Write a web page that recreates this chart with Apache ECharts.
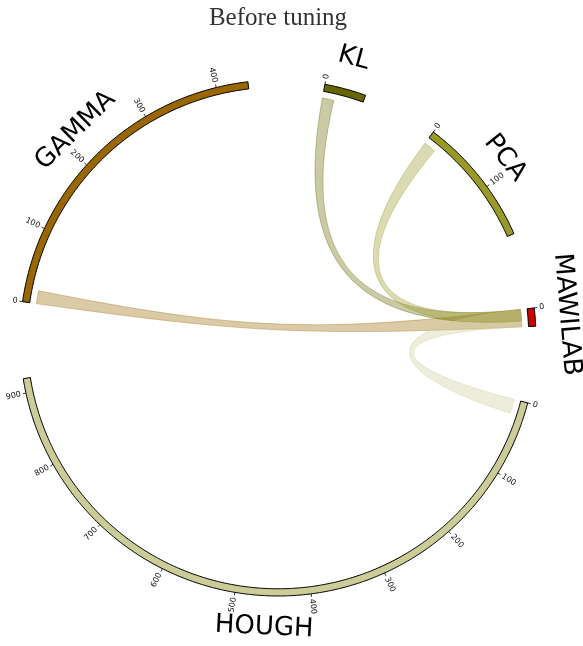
<!DOCTYPE html>
<html>
<head>
<meta charset="utf-8">
<title>Before tuning</title>
<script src="https://cdn.jsdelivr.net/npm/echarts@6/dist/echarts.min.js"></script>
<style>
  html, body { margin: 0; padding: 0; background: #fff; }
  #main { width: 583px; height: 646px; }
</style>
</head>
<body>
<div id="main"></div>
<script>
// nodes, clockwise from GAMMA
var names = ['GAMMA', 'KL', 'PCA', 'MAWILAB', 'HOUGH'];
var sizes = [442, 55, 171, 24, 919];
var colors = ['#996600', '#666600', '#999926', '#cc0000', '#cccc99'];

// links (width at each end, counted from the start of the node)
var linkFrom = ['GAMMA', 'KL', 'PCA', 'HOUGH'];
var linkTo = ['MAWILAB', 'MAWILAB', 'MAWILAB', 'MAWILAB'];
var linkFromWidth = [18, 16, 17, 20];
var linkToWidth = [24, 16, 16, 24];

var tickStep = 100;
var gap = 101;

// radii, as a fraction of the polar radius
var R_OUT = 1, R_IN = 0.972, R_CHORD = 0.946;
var R_TICK = 1.012, R_TICK_LABEL = 1.02, R_NAME = 1.123;

var starts = [];
var total = 0;
for (var i = 0; i < names.length; i++) {
    starts.push(total);
    total += sizes[i] + gap;
}

var ticks = [];
names.forEach(function (n, i) {
    for (var v = 0; v <= sizes[i]; v += tickStep) {
        ticks.push({node: i, value: v});
    }
});

function rgba(hex, a) {
    var n = parseInt(hex.slice(1), 16);
    return 'rgba(' + (n >> 16 & 255) + ',' + (n >> 8 & 255) + ',' + (n & 255) + ',' + a + ')';
}

function angleAt(api, p) {
    var c = api.coord([0, 0]);
    return Math.atan2(c[1] - p[1], p[0] - c[0]);
}

function xy(p) {
    return p[0].toFixed(2) + ' ' + p[1].toFixed(2);
}

function arcPath(api, r, u0, u1) {
    var s = '';
    var n = Math.max(2, Math.ceil(Math.abs(u1 - u0) / 2));
    for (var j = 1; j <= n; j++) {
        s += ' L' + xy(api.coord([r, u0 + (u1 - u0) * j / n]));
    }
    return s;
}

// bezier through the inside; pulled less to the centre for far apart ends
function bend(api, u0, u1) {
    var deg = Math.abs(u1 - u0) / total * 360;
    if (deg > 180) deg = 360 - deg;
    var k = Math.min(0.45, Math.max(0.1, 0.45 - 0.0018 * deg));
    return ' C' + xy(api.coord([R_CHORD * k, u0])) + ' ' +
        xy(api.coord([R_CHORD * k, u1])) + ' ' + xy(api.coord([R_CHORD, u1]));
}

var chart = echarts.init(document.getElementById('main'));

var option = {
    animation: false,
    title: {
        text: 'Before tuning',
        left: 278,
        top: 6,
        padding: 0,
        textAlign: 'center',
        textStyle: {
            fontFamily: 'Liberation Serif',
            fontSize: 25,
            fontWeight: 'normal',
            color: '#333'
        }
    },
    polar: {
        center: [278, 338],
        radius: 258
    },
    angleAxis: {
        type: 'value',
        min: 0,
        max: total,
        startAngle: 171.9,
        clockwise: true,
        show: false
    },
    radiusAxis: {
        type: 'value',
        min: 0,
        max: 1,
        show: false
    },
    series: [{
        // chords
        type: 'custom',
        coordinateSystem: 'polar',
        silent: true,
        clip: false,
        data: linkFrom.map(function (n) { return [R_CHORD, starts[names.indexOf(n)]]; }),
        renderItem: function (params, api) {
            var i = params.dataIndex;
            var s = names.indexOf(linkFrom[i]);
            var t = names.indexOf(linkTo[i]);
            var a0 = starts[s], a1 = starts[s] + linkFromWidth[i];
            var b0 = starts[t], b1 = starts[t] + linkToWidth[i];
            var d = 'M' + xy(api.coord([R_CHORD, a0]));
            d += arcPath(api, R_CHORD, a0, a1);
            d += bend(api, a1, b0);
            d += arcPath(api, R_CHORD, b0, b1);
            d += bend(api, b1, a0);
            d += ' Z';
            return {
                type: 'path',
                shape: {pathData: d},
                style: {
                    fill: rgba(colors[s], 0.35),
                    stroke: rgba(colors[s], 0.45),
                    lineWidth: 0.8
                }
            };
        }
    }, {
        // node arcs
        type: 'custom',
        coordinateSystem: 'polar',
        silent: true,
        clip: false,
        data: names.map(function (n, i) { return [R_OUT, starts[i]]; }),
        renderItem: function (params, api) {
            var i = params.dataIndex;
            var pts = [];
            var n = Math.max(4, Math.ceil(sizes[i] / 3));
            var j;
            for (j = 0; j <= n; j++) pts.push(api.coord([R_OUT, starts[i] + sizes[i] * j / n]));
            for (j = n; j >= 0; j--) pts.push(api.coord([R_IN, starts[i] + sizes[i] * j / n]));
            return {
                type: 'polygon',
                shape: {points: pts},
                style: {fill: colors[i], stroke: '#000', lineWidth: 1}
            };
        }
    }, {
        // ticks
        type: 'custom',
        coordinateSystem: 'polar',
        silent: true,
        clip: false,
        data: ticks.map(function (t) { return [R_OUT, starts[t.node] + t.value]; }),
        renderItem: function (params, api) {
            var t = ticks[params.dataIndex];
            var u = starts[t.node] + t.value;
            var p0 = api.coord([R_OUT, u]);
            var p1 = api.coord([R_TICK, u]);
            var pl = api.coord([R_TICK_LABEL, u]);
            var th = angleAt(api, p0);
            var right = Math.cos(th) >= 0;
            return {
                type: 'group',
                children: [{
                    type: 'line',
                    shape: {x1: p0[0], y1: p0[1], x2: p1[0], y2: p1[1]},
                    style: {stroke: '#000', lineWidth: 0.8}
                }, {
                    type: 'text',
                    x: pl[0],
                    y: pl[1],
                    rotation: right ? th : th - Math.PI,
                    style: {
                        text: String(t.value),
                        fontSize: 8,
                        fontFamily: 'DejaVu Sans',
                        fill: '#111',
                        align: right ? 'left' : 'right',
                        verticalAlign: 'middle'
                    }
                }]
            };
        }
    }, {
        // node names
        type: 'custom',
        coordinateSystem: 'polar',
        silent: true,
        clip: false,
        data: names.map(function (n, i) { return [R_OUT, starts[i] + sizes[i] / 2]; }),
        renderItem: function (params, api) {
            var i = params.dataIndex;
            var p = api.coord([R_NAME, starts[i] + sizes[i] / 2]);
            var th = angleAt(api, p);
            var rot = Math.sin(th) >= 0 ? th - Math.PI / 2 : th + Math.PI / 2;
            return {
                type: 'text',
                x: p[0],
                y: p[1],
                rotation: rot,
                style: {
                    text: names[i],
                    fontSize: 26,
                    fontFamily: 'DejaVu Sans',
                    fill: '#000',
                    align: 'center',
                    verticalAlign: 'middle'
                }
            };
        }
    }]
};

chart.setOption(option);
</script>
</body>
</html>
